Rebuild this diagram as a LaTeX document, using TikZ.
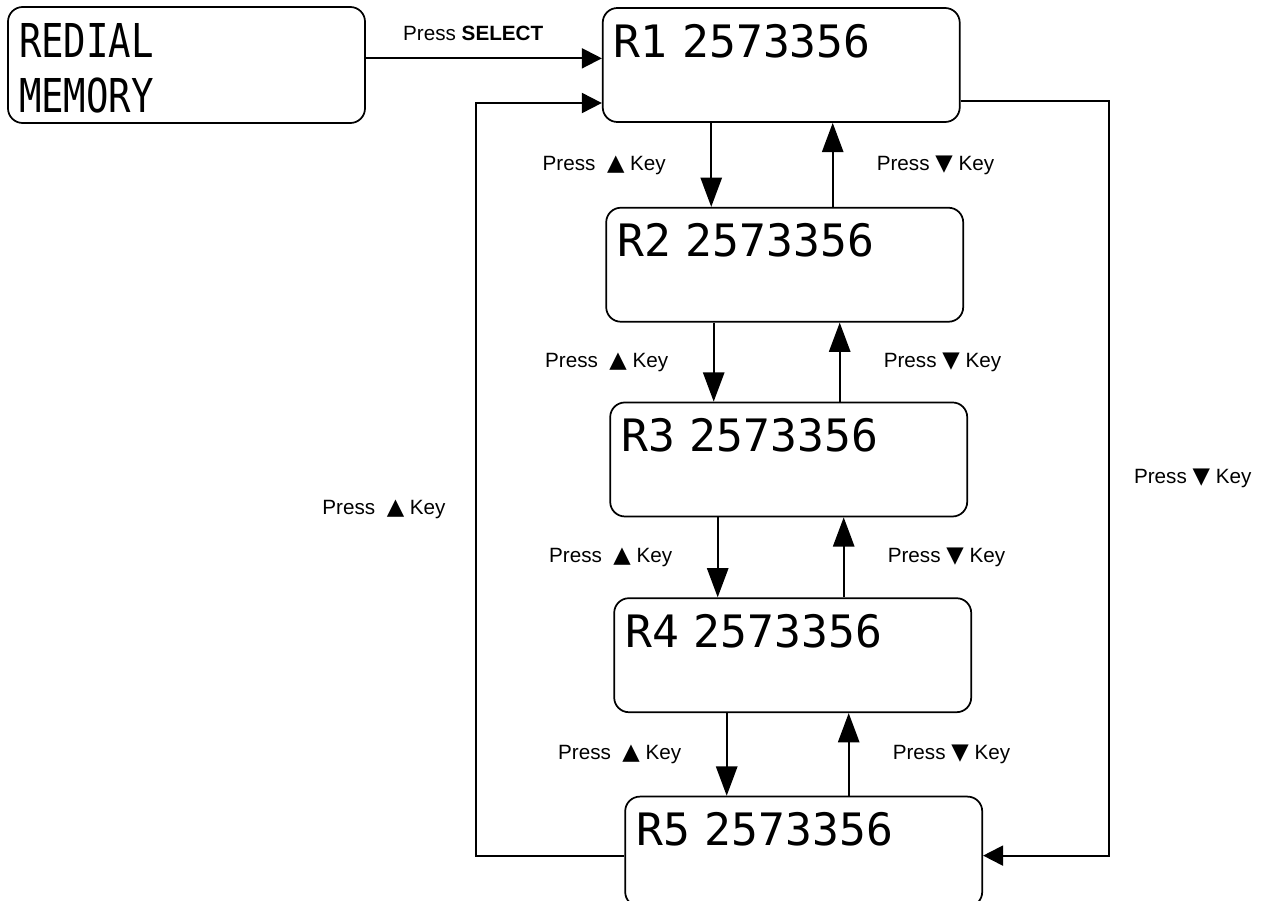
\documentclass[tikz,border=0pt]{standalone}
\usepackage{fontspec}
\setmainfont{Liberation Sans}
\newfontfamily\lcdfont{DejaVu Sans Mono}
\newfontfamily\lcdnarrow[FakeStretch=0.8]{DejaVu Sans Mono}
\newfontfamily\symfont{DejaVu Sans}
\usetikzlibrary{positioning,arrows.meta,calc}
\newcommand{\upkey}{{\symfont\fontsize{17}{18}\selectfont ▲}}
\newcommand{\downkey}{{\symfont\fontsize{17}{18}\selectfont ▼}}

\begin{document}
\begin{tikzpicture}[
    x=0.75pt, y=-0.75pt,
    lbl/.style={font=\fontsize{15.5}{18}\selectfont},
    lcd/.style={draw, line width=1.3pt, rounded corners=11pt, align=left,
      text width=251.25pt, inner xsep=8.25pt, inner ysep=0pt,
      text height=36.75pt, text depth=48.75pt,
      font=\lcdfont\fontsize{33.5}{40}\selectfont},
    varr/.style={-{Triangle[length=22pt,width=16pt]}, line width=1.5pt},
    harr/.style={-{Triangle[length=15pt,width=15pt]}, line width=1.5pt}
  ]
    \useasboundingbox (0,0) rectangle (1263,900);

    \node[lcd, text height=37.5pt, text depth=49.5pt,
      font=\lcdnarrow\fontsize{35}{41.25}\selectfont] (redial) at (186.5,65) {REDIAL\\MEMORY};

    \node[lcd, right=177pt of redial] (r1) {R1 2573356};
    \node[lcd, below=63pt of r1, xshift=2.6pt] (r2) {R2 2573356};
    \node[lcd, below=59.25pt of r2, xshift=3pt] (r3) {R3 2573356};
    \node[lcd, below=60pt of r3, xshift=3pt] (r4) {R4 2573356};
    \node[lcd, below=62pt of r4, xshift=8.25pt, text depth=45.75pt] (r5) {R5 2573356};

    \draw[harr] ([yshift=5pt]redial.east) -- ([yshift=5pt]r1.west)
      node[midway, above=9pt, xshift=-8pt, lbl] {Press \textbf{SELECT}};

    % R1 <-> R2
    \draw[varr] ($(r1.south)+(-70,0)$) coordinate (d1) -- (d1 |- r2.north)
      node[midway, left=30pt, lbl] {Press\ \ \upkey\ Key};
    \draw[varr] ($(r2.north)+(48,0)$) coordinate (u1) -- (u1 |- r1.south)
      node[midway, right=29pt, lbl] {Press \downkey\ Key};

    % R2 <-> R3
    \draw[varr] ($(r2.south)+(-71,0)$) coordinate (d2) -- (d2 |- r3.north)
      node[midway, left=30pt, lbl] {Press\ \ \upkey\ Key};
    \draw[varr] ($(r3.north)+(51,0)$) coordinate (u2) -- (u2 |- r2.south)
      node[midway, right=29pt, lbl] {Press \downkey\ Key};

    % R3 <-> R4
    \draw[varr] ($(r3.south)+(-71,0)$) coordinate (d3) -- (d3 |- r4.north)
      node[midway, left=30pt, lbl] {Press\ \ \upkey\ Key};
    \draw[varr] ($(r4.north)+(51,0)$) coordinate (u3) -- (u3 |- r3.south)
      node[midway, right=29pt, lbl] {Press \downkey\ Key};

    % R4 <-> R5
    \draw[varr] ($(r4.south)+(-66,0)$) coordinate (d4) -- (d4 |- r5.north)
      node[midway, left=30pt, lbl] {Press\ \ \upkey\ Key};
    \draw[varr] ($(r5.north)+(45,0)$) coordinate (u4) -- (u4 |- r4.south)
      node[midway, right=29pt, lbl] {Press \downkey\ Key};

    % wrap around
    \draw[harr] ([yshift=-3pt]r5.west) -- ++(-148,0)
      |- node[pos=0.23, left=19pt, lbl] {Press\ \ \upkey\ Key} ([yshift=-28.5pt]r1.west);
    \draw[harr] ([yshift=-27pt]r1.east) -- ++(148,0)
      |- node[pos=0.25, right=15pt, lbl] {Press \downkey\ Key} ([yshift=-3pt]r5.east);
\end{tikzpicture}
\end{document}
